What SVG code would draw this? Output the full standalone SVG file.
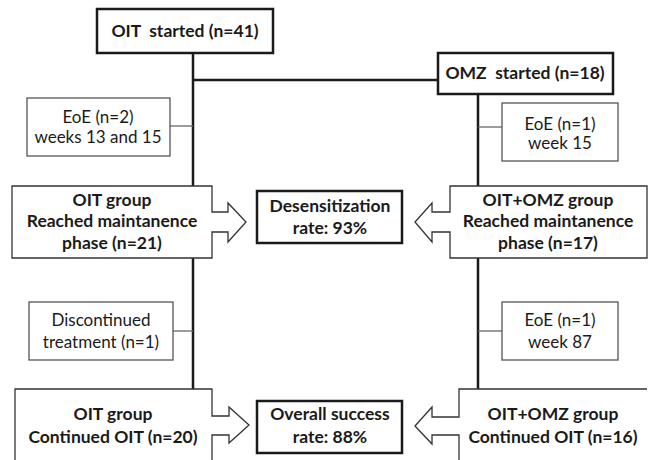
<svg xmlns="http://www.w3.org/2000/svg" width="648" height="460" viewBox="0 0 648 460">
<style>
.main{fill:#fff;stroke:#1a1a1a;stroke-width:2.5}
.thin{fill:#fff;stroke:#555;stroke-width:1.3}
.grp{fill:#fff;stroke:#333;stroke-width:1.3}
.trunk{stroke:#1a1a1a;stroke-width:2.5;fill:none}
.side{stroke:#666;stroke-width:1.3;fill:none}
text{font-family:Lato,"Open Sans",sans-serif;fill:#1a1a1a;text-anchor:middle}
.b{font-weight:bold;font-size:17.5px}
.r{font-size:17px}
</style>
<rect width="648" height="460" fill="#fff"/>
<g id="connectors">
<line class="trunk" x1="193" y1="53" x2="193" y2="389"/>
<line class="trunk" x1="193" y1="80" x2="438" y2="80"/>
<line class="trunk" x1="478" y1="94" x2="478" y2="389"/>
<line class="side" x1="170" y1="126" x2="193" y2="126"/>
<line class="side" x1="478" y1="127" x2="502" y2="127"/>
<line class="side" x1="173" y1="331" x2="193" y2="331"/>
<line class="side" x1="478" y1="331" x2="502" y2="331"/>
</g>
<g id="oit-started">
<rect class="main" x="97" y="9" width="176" height="44"/>
<text class="b" x="185" y="37" xml:space="preserve">OIT  started (n=41)</text>
</g>
<g id="omz-started">
<rect class="main" x="438" y="53" width="175" height="41"/>
<text class="b" x="525" y="79" xml:space="preserve">OMZ  started (n=18)</text>
</g>
<g id="eoe-left">
<rect class="thin" x="27" y="98" width="143" height="58"/>
<text class="r" x="98" y="123">EoE (n=2)</text>
<text class="r" x="98" y="143">weeks 13 and 15</text>
</g>
<g id="eoe-right">
<rect class="thin" x="502" y="103" width="116" height="58"/>
<text class="r" x="560" y="130">EoE (n=1)</text>
<text class="r" x="560" y="149">week 15</text>
</g>
<g id="oit-group-maint">
<path class="grp" d="M12,186 H212 V212 H228 V203 L246,222 L228,242 V232 H212 V258 H12 Z"/>
<text class="b" x="112" y="206">OIT group</text>
<text class="b" x="112" y="227">Reached maintanence</text>
<text class="b" x="112" y="249">phase (n=21)</text>
</g>
<g id="desensitization">
<rect class="main" x="257" y="191" width="145" height="52"/>
<text class="b" x="330" y="212">Desensitization</text>
<text class="b" x="330" y="234">rate: 93%</text>
</g>
<g id="omz-group-maint">
<path class="grp" d="M647,186 H450 V212 H432 V203 L415,222 L432,242 V232 H450 V258 H647 Z"/>
<text class="b" x="548" y="206">OIT+OMZ group</text>
<text class="b" x="548" y="227">Reached maintanence</text>
<text class="b" x="548" y="249">phase (n=17)</text>
</g>
<g id="discontinued">
<rect class="thin" x="29" y="302" width="144" height="58"/>
<text class="r" x="101" y="326">Discontinued</text>
<text class="r" x="101" y="348">treatment (n=1)</text>
</g>
<g id="eoe-87">
<rect class="thin" x="502" y="302" width="116" height="58"/>
<text class="r" x="560" y="326">EoE (n=1)</text>
<text class="r" x="560" y="348">week 87</text>
</g>
<g id="oit-group-cont">
<path class="grp" d="M15,464 V389 H212 V416 H229 V407 L249,425 L229,443 V435 H212 V464"/>
<text class="b" x="113" y="420">OIT group</text>
<text class="b" x="113" y="443">Continued OIT (n=20)</text>
</g>
<g id="overall">
<rect class="main" x="257" y="401" width="145" height="52"/>
<text class="b" x="330" y="420">Overall success</text>
<text class="b" x="330" y="443">rate: 88%</text>
</g>
<g id="omz-group-cont">
<path class="grp" d="M647,389 H459 V417 H432 V407 L415,426 L432,444 V435 H459 V464"/>
<text class="b" x="553" y="420">OIT+OMZ group</text>
<text class="b" x="553" y="443">Continued OIT (n=16)</text>
</g>
</svg>
